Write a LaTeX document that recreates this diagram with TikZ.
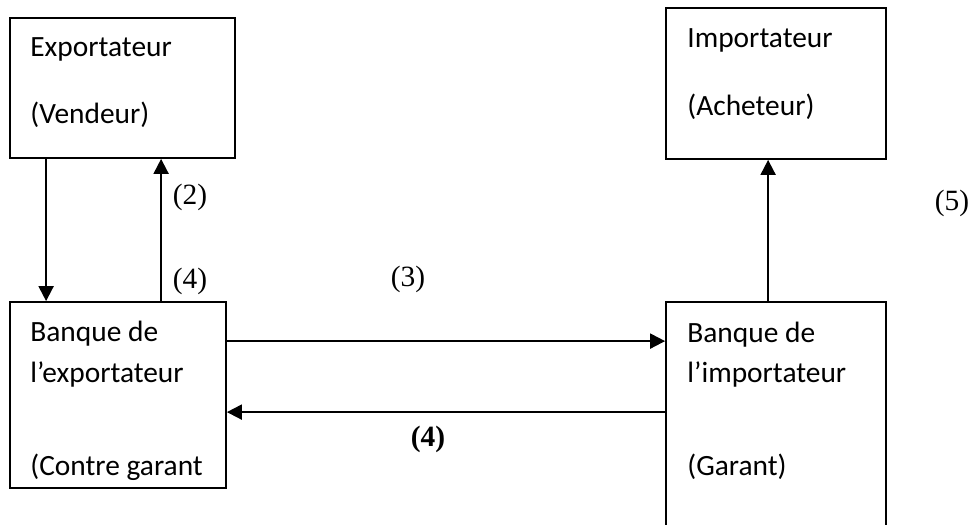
\documentclass[tikz,border=0pt]{standalone}
\usepackage{fontspec}
\setmainfont{Liberation Serif}
\newfontfamily\boxfont{Carlito}
\usetikzlibrary{arrows.meta}

\begin{document}
\begin{tikzpicture}[x=0.5pt,y=-0.5pt]
    % Styles
    \tikzstyle{box}=[draw, line width=0.9pt, rectangle, inner sep=0pt]
    \tikzstyle{boxtext}=[anchor=base west, inner sep=0pt, font=\boxfont\fontsize{14.7}{17}\selectfont]
    \tikzstyle{num}=[inner sep=0pt, font=\fontsize{14.7}{17}\selectfont]
    \tikzstyle{arr}=[line width=1pt, -{Triangle[length=7.5pt,width=7.5pt]}]

    % Page
    \clip (0,0) rectangle (973,524);

    % Boxes
    \node[box, minimum width=112.5pt, minimum height=70pt] (exp) at (122.5,88) {};
    \node[box, minimum width=110pt, minimum height=75.5pt] (imp) at (776,83.5) {};
    \node[box, minimum width=108pt, minimum height=93pt] (bexp) at (118,395) {};
    \node[box, minimum width=110pt, minimum height=119pt] (bimp) at (776,421) {};

    % Box texts
    \node[boxtext] (exp1) at (30,57) {Exportateur};
    \node[boxtext] (exp2) at (30,124) {(Vendeur)};
    \node[boxtext] (imp1) at (687,48) {Importateur};
    \node[boxtext] (imp2) at (687,116) {(Acheteur)};
    \node[boxtext] (bexp1) at (30,341) {Banque de};
    \node[boxtext] (bexp2) at (30,382) {l’exportateur};
    \node[boxtext] (bexp3) at (30,475) {(Contre garant};
    \node[boxtext] (bimp1) at (687,342) {Banque de};
    \node[boxtext] (bimp2) at (687,382) {l’importateur};
    \node[boxtext] (bimp3) at (687,475) {(Garant)};

    % Arrows
    \coordinate (down1) at ([xshift=18.5pt]exp.south west);
    \draw[arr] (down1) -- (down1 |- bexp.north);
    \coordinate (up1) at ([xshift=76pt]bexp.north west);
    \draw[arr] (up1) -- (up1 |- exp.south);
    \coordinate (right1) at ([yshift=-20pt]bexp.north east);
    \draw[arr] (right1) -- (right1 -| bimp.west);
    \coordinate (left1) at ([yshift=-55.5pt]bimp.north west);
    \draw[arr] (left1) -- (left1 -| bexp.east);
    \coordinate (up2) at ([xshift=51.5pt]bimp.north west);
    \draw[arr] (up2) -- (up2 |- imp.south);

    % Step numbers
    \node[num] (n2) at (190,197) {(2)};
    \node[num] (n4) at (190,281) {(4)};
    \node[num] (n3) at (408,279) {(3)};
    \node[num] (n5) at (952,203) {(5)};
    \node[num] (n4b) at (428,439) {\textbf{(4)}};

\end{tikzpicture}
\end{document}
